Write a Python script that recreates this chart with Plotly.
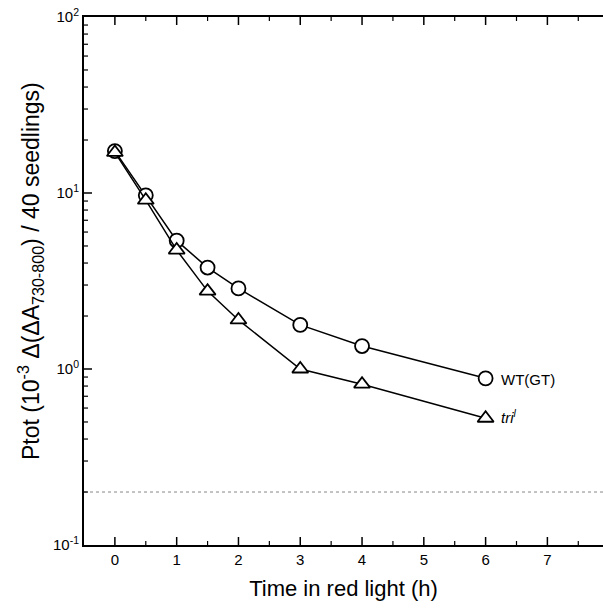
import math
import plotly.graph_objects as go

time_h = [0, 0.5, 1, 1.5, 2, 3, 4, 6]
wt_gt = [17.3, 9.7, 5.36, 3.77, 2.87, 1.78, 1.35, 0.885]
tri_l = [17.0, 9.1, 4.74, 2.77, 1.90, 1.0, 0.82, 0.525]
baseline = 0.2
x_ticks = [0, 1, 2, 3, 4, 5, 6, 7]
y_ticks = [0.1, 1, 10, 100]
y_tick_text = ["10<sup>-1</sup>", "10<sup>0</sup>", "10<sup>1</sup>", "10<sup>2</sup>"]

y_minor = [m * d for d in [0.1, 1, 10] for m in range(2, 10)]
x_minor = [v + 0.5 for v in [-1, 0, 1, 2, 3, 4, 5, 6, 7]]

font = "Liberation Sans, Arial, sans-serif"
X_RANGE = [-0.5, 7.9]
Y_RANGE = [-1, 2]
W, H = 603, 615
M = dict(l=84, r=0, t=17, b=70)
PLOT_W = W - M["l"] - M["r"]
PLOT_H = H - M["t"] - M["b"]

fig = go.Figure()
fig.add_trace(go.Scatter(x=X_RANGE, y=[baseline, baseline], mode="lines",
                         line=dict(color="#888", width=1, dash="dot"), showlegend=False,
                         hoverinfo="skip"))
fig.add_trace(go.Scatter(x=time_h, y=wt_gt, mode="lines+markers", name="WT(GT)",
                         line=dict(color="black", width=1.5),
                         marker=dict(symbol="circle", size=14, color="white",
                                     line=dict(color="black", width=1.8)),
                         showlegend=False))
fig.add_trace(go.Scatter(x=time_h, y=tri_l, mode="lines+markers", name="tri<sup>l</sup>",
                         line=dict(color="black", width=1.5),
                         marker=dict(symbol="triangle-up", size=14, color="white",
                                     line=dict(color="black", width=1.8)),
                         showlegend=False))

fig.add_annotation(x=time_h[-1], y=math.log10(wt_gt[-1]), yref="y", xref="x", text="WT(GT)",
                   showarrow=False, xanchor="left", xshift=13, yshift=-1,
                   font=dict(family=font, size=15, color="black"))
fig.add_annotation(x=time_h[-1], y=math.log10(tri_l[-1]), yref="y", xref="x",
                   text="<i>tri<sup>l</sup></i>",
                   showarrow=False, xanchor="left", xshift=13, yshift=2,
                   font=dict(family=font, size=15, color="black"))
fig.add_annotation(x=0, y=0.519, xref="paper", yref="paper", xshift=-54,
                   text="Ptot (10<sup>-3</sup> Δ(ΔA<sub>730-800</sub>) / 40 seedlings)",
                   textangle=-90, showarrow=False, xanchor="center", yanchor="middle",
                   font=dict(family=font, size=23, color="black"))

# inward tick marks, positioned on the axes' own scales
def tick_line(w):
    return dict(color="black", width=w)

for vals, length, width in [(x_ticks, 8, 1.5), (x_minor, 4, 1.2)]:
    frac = length / PLOT_H
    for v in vals:
        if X_RANGE[0] < v < X_RANGE[1]:
            fig.add_shape(type="line", layer="above", xref="x", yref="paper",
                          x0=v, x1=v, y0=0, y1=frac, line=tick_line(width))
            fig.add_shape(type="line", layer="above", xref="x", yref="paper",
                          x0=v, x1=v, y0=1, y1=1 - frac, line=tick_line(width))
for vals, length, width in [(y_ticks, 8, 1.5), (y_minor, 4, 1.2)]:
    frac = length / PLOT_W
    for v in vals:
        if Y_RANGE[0] < math.log10(v) < Y_RANGE[1]:
            fig.add_shape(type="line", layer="above", xref="paper", yref="y",
                          x0=0, x1=frac, y0=v, y1=v, line=tick_line(width))

common = dict(showgrid=False, zeroline=False, automargin=False, tickcolor="black")

fig.update_layout(
    width=W, height=H,
    margin=M,
    plot_bgcolor="white", paper_bgcolor="white",
    font=dict(family=font, size=15, color="black"),
    xaxis=dict(range=X_RANGE, tickmode="array", tickvals=x_ticks, ticks="",
               showline=True, linecolor="black", linewidth=2, mirror=True,
               title=dict(text="Time in red light (h)", font=dict(size=22, family=font),
                          standoff=14),
               tickfont=dict(size=15), **common),
    yaxis=dict(type="log", range=Y_RANGE, tickmode="array", tickvals=y_ticks,
               ticktext=y_tick_text, ticks="", showline=True, linecolor="black",
               linewidth=2, mirror=False, tickfont=dict(size=15), **common),
)

fig.write_html("out.html", post_script="document.body.style.margin='0';",
               config={"displayModeBar": False})
